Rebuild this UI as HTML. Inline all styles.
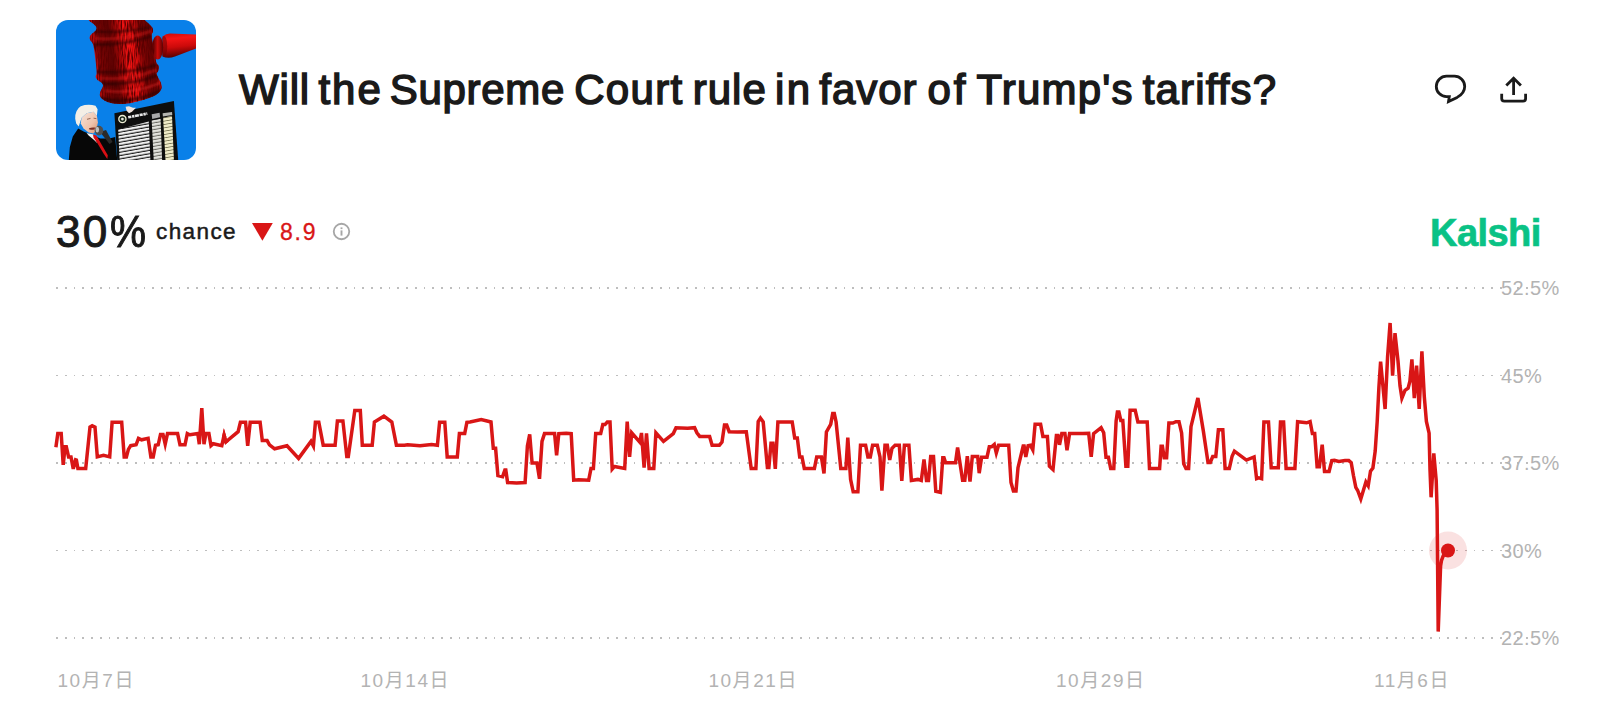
<!DOCTYPE html>
<html lang="en">
<head>
<meta charset="utf-8">
<title>Will the Supreme Court rule in favor of Trump's tariffs?</title>
<style>
html,body{margin:0;padding:0;background:#fff;}
body{width:1600px;height:709px;position:relative;overflow:hidden;font-family:"Liberation Sans","Noto Sans CJK JP",sans-serif;color:#1a1a1a;}
.thumb{position:absolute;left:56px;top:20px;width:140px;height:140px;border-radius:12px;overflow:hidden;}
.thumb svg{display:block;}
h1{position:absolute;left:0;top:63.7px;margin:0;width:1400px;height:52px;font-size:42px;line-height:52px;font-weight:400;white-space:nowrap;color:#1a1a1a;-webkit-text-stroke:1.5px #1a1a1a;}
h1 span{position:absolute;top:0;}
.icons{position:absolute;left:0;top:0;}
.pct{position:absolute;left:56px;top:206px;font-size:44px;line-height:52px;font-weight:400;letter-spacing:1px;color:#1a1a1a;white-space:nowrap;-webkit-text-stroke:1px #1a1a1a;}
.chance{position:absolute;left:156px;top:218px;font-size:22.5px;line-height:28px;letter-spacing:1.4px;color:#1a1a1a;white-space:nowrap;-webkit-text-stroke:0.5px #1a1a1a;}
.delta{position:absolute;left:280px;top:218px;font-size:23px;line-height:28px;letter-spacing:1.8px;color:#d91616;white-space:nowrap;-webkit-text-stroke:0.3px #d91616;}
.kalshi{position:absolute;left:1430px;top:211px;font-size:38px;line-height:44px;font-weight:700;color:#0ac285;letter-spacing:-0.55px;-webkit-text-stroke:0.7px #0ac285;white-space:nowrap;}
svg.chart{position:absolute;left:0;top:0;}
svg.chart text{font-family:"Liberation Sans","Noto Sans CJK JP",sans-serif;fill:#b3b3b3;}
</style>
</head>
<body>
<div class="thumb"><svg width="140" height="140" viewBox="0 0 140 140">
<defs>
<linearGradient id="gh" gradientUnits="userSpaceOnUse" x1="33" y1="46" x2="106" y2="36">
<stop offset="0" stop-color="#b00808"/><stop offset="0.07" stop-color="#dd0f0f"/><stop offset="0.17" stop-color="#780303"/><stop offset="0.33" stop-color="#5e0202"/><stop offset="0.44" stop-color="#a50707"/><stop offset="0.54" stop-color="#f21313"/><stop offset="0.64" stop-color="#e30e0e"/><stop offset="0.74" stop-color="#800404"/><stop offset="0.87" stop-color="#650202"/><stop offset="0.95" stop-color="#d60d0d"/><stop offset="1" stop-color="#a00606"/>
</linearGradient>
<linearGradient id="hd" x1="0" y1="0" x2="0.15" y2="1">
<stop offset="0" stop-color="#c80a0a"/><stop offset="0.25" stop-color="#f51515"/><stop offset="0.6" stop-color="#cc0a0a"/><stop offset="1" stop-color="#5a0101"/>
</linearGradient>
<linearGradient id="kn" x1="0" y1="0" x2="1" y2="0">
<stop offset="0" stop-color="#3c0101"/><stop offset="0.5" stop-color="#c80a0a"/><stop offset="1" stop-color="#5a0202"/>
</linearGradient>
<linearGradient id="face" x1="0" y1="0" x2="1" y2="1">
<stop offset="0" stop-color="#f6e3d8"/><stop offset="0.6" stop-color="#efc4ad"/><stop offset="1" stop-color="#d98f6c"/>
</linearGradient>
<pattern id="rows" x="0" y="0" width="10" height="3.3" patternUnits="userSpaceOnUse" patternTransform="rotate(-10)"><rect width="10" height="2.3" fill="#f0f0f0"/><rect y="2.3" width="10" height="1" fill="#1a1a1a"/></pattern>
<pattern id="rows2" x="0" y="0" width="10" height="3.3" patternUnits="userSpaceOnUse" patternTransform="rotate(-10)"><rect width="10" height="2.4" fill="#e2e2dc"/><rect y="2.4" width="10" height="0.9" fill="#6a6a62"/></pattern>
<pattern id="rows3" x="0" y="0" width="10" height="3.3" patternUnits="userSpaceOnUse" patternTransform="rotate(-10)"><rect width="10" height="2.5" fill="#efebc8"/><rect y="2.5" width="10" height="0.8" fill="#7d7a58"/></pattern>
<filter id="grain" x="0" y="0" width="100%" height="100%"><feTurbulence type="fractalNoise" baseFrequency="0.8 0.09" numOctaves="2" seed="7" result="n"/><feColorMatrix in="n" type="matrix" values="0 0 0 0 0.1  0 0 0 0 0  0 0 0 0 0  3.2 0 0 0 -1.25" result="a"/><feComposite in="a" in2="SourceGraphic" operator="in"/></filter>
<filter id="soft" x="-10%" y="-10%" width="120%" height="120%"><feGaussianBlur stdDeviation="0.8"/></filter>
<path id="gv" d="M58.0 -6.0 Q30.0 -6.0 30.9 -3.0 Q31.7 0.0 35.9 2.8 Q40.0 5.6 40.5 7.8 Q41.0 10.1 38.2 12.0 Q35.5 13.9 34.4 15.4 Q33.2 17.0 33.8 18.9 Q34.3 20.8 35.8 22.1 Q37.4 23.4 38.3 30.7 Q39.3 38.0 40.2 46.0 Q41.2 53.9 40.2 55.0 Q39.3 56.0 40.0 57.9 Q40.6 59.8 44.7 61.9 Q48.8 64.0 46.0 68.5 Q43.1 72.9 44.0 76.1 Q45.0 79.2 51.4 81.9 Q57.7 84.6 67.2 83.9 Q76.8 83.3 86.9 80.1 Q97.1 76.9 101.0 74.2 Q104.9 71.6 105.6 67.8 Q106.2 64.0 102.9 59.0 Q99.6 53.9 101.1 52.6 Q102.6 51.3 102.8 48.5 Q103.0 45.6 101.7 44.8 Q100.3 44.0 99.0 36.5 Q97.8 29.0 96.5 21.8 Q95.2 14.5 96.2 13.2 Q97.3 12.0 97.0 9.8 Q96.7 7.5 95.0 5.9 Q93.3 4.3 90.8 2.1 Q88.2 0.0 87.1 -3.0 Q86.0 -6.0 58.0 -6.0Z"/>
<clipPath id="gvc"><use href="#gv"/></clipPath>
</defs>
<rect width="140" height="140" fill="#0980e9"/>
<!-- handle -->
<path d="M106.5 16.5 Q110 13.6 114 13.6 L140 14.4 L140 28.6 L119 36.6 Q112 39 106.5 36.5 Z" fill="url(#hd)"/>
<ellipse cx="108" cy="26.5" rx="3.2" ry="10.5" fill="#6a0202" fill-opacity="0.55"/>
<ellipse cx="101.6" cy="27.6" rx="5.6" ry="12" fill="url(#kn)"/>
<!-- gavel head -->
<use href="#gv" fill="url(#gh)"/>
<use href="#gv" fill="#000" filter="url(#grain)"/>
<g clip-path="url(#gvc)">
<g fill="none" stroke="#240000" stroke-opacity="0.62" stroke-linecap="round" filter="url(#soft)">
<path d="M38 11.5 Q68 13.5 98 6.5" stroke-width="2"/>
<path d="M35 24.2 Q66 26.5 97 15.8" stroke-width="2.6"/>
<path d="M39 51.5 Q70 55 102 44.5" stroke-width="2.4"/>
<path d="M44 63.5 Q74 66 101 55.5" stroke-width="3.4"/>
<path d="M43 78 Q74 86 106 70" stroke-width="4"/>
</g>
<g fill="none" stroke="#ff2a2a" stroke-opacity="0.5" stroke-linecap="round" filter="url(#soft)">
<path d="M40 18.5 Q68 20.5 94 11.5" stroke-width="1.6"/>
<path d="M46 58.2 Q74 60.5 100 50" stroke-width="1.6"/>
<path d="M50 71 Q78 74 104 63" stroke-width="2"/>
</g>
</g>
<!-- board -->
<path d="M58.4 93.2 L117.9 80.9 L122.2 140 L61.2 140 Z" fill="#0d0d0d"/>
<path d="M62.2 109.5 L92.8 101.6 L94.2 135.2 L94.4 140 L63.6 140 Z" fill="url(#rows)"/>
<path d="M95.7 100.6 L104.6 98.7 L106.1 140 L97.7 140 Z" fill="url(#rows2)"/>
<path d="M107.1 97.7 L116 95.7 L117.9 140 L109.5 140 Z" fill="url(#rows3)"/>
<path d="M95.7 94.2 L103.6 92.7 L104.1 97.2 L96.2 98.9 Z" fill="#a9a9a9"/>
<path d="M106.6 93.2 L116 91.9 L116.3 94.9 L106.9 96.5 Z" fill="#b5b5b0"/>
<path d="M72.2 97.3 L91.3 93.6" stroke="#e6e6e6" stroke-width="2.6" stroke-dasharray="3.2 0.7 2.4 0.6 4 0.7"/>
<circle cx="66.4" cy="99.1" r="3.6" fill="#1d2a1d" stroke="#efefd6" stroke-width="1.3"/>
<circle cx="66.4" cy="99.1" r="1.4" fill="#e8e8e0"/>
<!-- hand -->
<path d="M69.6 86.8 L73 86.3 L77 87.8 L79.9 87.8 L76 91.7 L73 93.2 L70.6 90.8 Z" fill="#f3e6e0"/>
<!-- person -->
<path d="M12.8 140 L13.8 127.3 L16.8 116.4 L22.2 108.5 L27.6 111.5 L37.5 115.4 L44.4 118.4 L53.3 118.4 L59.2 116.9 L61.2 140 Z" fill="#070707"/>
<path d="M30.6 113 L37.5 114.4 L41.4 123.3 L37.5 119.4 L32.6 115.4 Z" fill="#f2f2f2"/>
<path d="M37 114.4 L40.4 115.4 L51.8 135.2 L51.3 139.1 L47.4 133.2 L41.4 123.3 L37.5 117.4 Z" fill="#d90f14"/>
<path d="M25.6 97.7 L30.6 93.2 L37.5 91.7 L40.9 95.7 L41.9 102.6 L40.4 109.5 L37.5 113.5 L32.6 112.5 L27.6 108.5 L24.7 103.6 Z" fill="url(#face)"/>
<path d="M19.2 98.7 Q19 90 24.7 86.3 Q32 83.6 39.5 85.8 L41.6 89.3 L40.9 95.7 L37.5 91.7 L30.6 93.2 L25.6 97.7 L22.7 106.6 L20.2 103.6 Z" fill="#f4efe6"/>
<path d="M33 108.2 Q36 107 39 107.6 L38.6 109.4 Q36 109.8 33.4 109.6Z" fill="#7a2f25"/>
<path d="M31 99.3 L34.5 98.4 M37.6 98.2 L40.4 98.6" stroke="#8a5a48" stroke-width="0.9"/>
<!-- mic -->
<path d="M44 112 L50 110 L56.5 122 L53.5 124 Z" fill="#2a2a2a"/>
<ellipse cx="43" cy="110.6" rx="4.3" ry="4.8" fill="#4e4e4e"/>
<ellipse cx="41.3" cy="109.6" rx="1.8" ry="2.8" fill="#bdbdbd"/>
</svg>
</div>
<h1><span style="left:239.1px;letter-spacing:0.8px">Will</span> <span style="left:318.4px;letter-spacing:2.06px">the</span> <span style="left:389.7px;letter-spacing:0.71px">Supreme</span> <span style="left:574.2px;letter-spacing:1.31px">Court</span> <span style="left:692.8px;letter-spacing:0.97px">rule</span> <span style="left:774.9px;letter-spacing:2.51px">in</span> <span style="left:819.3px;letter-spacing:0.95px">favor</span> <span style="left:927.6px;letter-spacing:2.68px">of</span> <span style="left:976.5px;letter-spacing:1.18px">Trump's</span> <span style="left:1142.8px;letter-spacing:1.13px">tariffs?</span></h1>
<svg class="icons" width="1600" height="200" viewBox="0 0 1600 200" fill="none" stroke="#1a1a1a" stroke-width="2.8">
<path d="M1446.5 76.2 h8 a10.2 10.2 0 0 1 10.2 10.2 c0 5.6 -3.4 8.6 -7.6 11 l-8.6 4.2 l0.8 -5 h-2.8 a10.2 10.2 0 0 1 0 -20.4 z" stroke-linejoin="miter"/>
<path d="M1513.6 95 V78.5 M1506.3 85.5 L1513.6 78.2 L1520.9 85.5 M1501.7 93.8 V98.5 a2.6 2.6 0 0 0 2.6 2.6 H1523 a2.6 2.6 0 0 0 2.6 -2.6 V93.8"/>
</svg>
<div class="pct"><span style="letter-spacing:2.4px">30</span><span style="display:inline-block;transform:scaleX(.92);transform-origin:0 50%">%</span></div>
<div class="chance">chance</div>
<svg class="icons" width="1600" height="300" viewBox="0 0 1600 300">
<path d="M252 223.1 H272.8 L262.4 240.8 Z" fill="#d91616"/>
<circle cx="341.5" cy="231.5" r="7.75" fill="none" stroke="#a6a6a6" stroke-width="1.8"/>
<rect x="340.55" y="230.4" width="1.9" height="5.2" fill="#a6a6a6"/>
<rect x="340.55" y="227.4" width="1.9" height="1.7" fill="#a6a6a6"/>
</svg>
<div class="delta">8.9</div>
<div class="kalshi">Kalshi</div>
<svg class="chart" width="1600" height="709" viewBox="0 0 1600 709">
<defs><pattern id="dots" x="56" y="0" width="35" height="709" patternUnits="userSpaceOnUse"><path d="M0 0h2v709h-2z M9 0h2v709h-2z M18 0h1v709h-1z M26 0h2v709h-2z" fill="#bebebe"/></pattern></defs>
<g shape-rendering="crispEdges">
<rect x="56" y="287" width="1472" height="2" fill="url(#dots)"/>
<rect x="56" y="375" width="1472" height="1" fill="url(#dots)"/>
<rect x="56" y="462" width="1472" height="2" fill="url(#dots)"/>
<rect x="56" y="550" width="1472" height="1" fill="url(#dots)"/>
<rect x="56" y="637" width="1472" height="2" fill="url(#dots)"/>
</g>
<g font-size="20" letter-spacing="0.4">
<text x="1501" y="295">52.5%</text>
<text x="1501" y="382.5">45%</text>
<text x="1501" y="470">37.5%</text>
<text x="1501" y="557.5">30%</text>
<text x="1501" y="645">22.5%</text>
</g>
<g font-size="19" letter-spacing="1.55">
<text x="57.5" y="686.5">10月7日</text>
<text x="360.5" y="686.5">10月14日</text>
<text x="708.4" y="686.5">10月21日</text>
<text x="1056" y="686.5">10月29日</text>
<text x="1374" y="686.5">11月6日</text>
</g>
<circle cx="1448" cy="550.5" r="19" fill="#d91616" fill-opacity="0.13"/>
<path d="M55.9 447.5 L57.8 433.8 L61.2 433.8 L63.2 465.1 L65.1 447 L66.3 447 L68.6 457.1 L71 457.1 L73 467.6 L73.6 467.6 L75.6 459.9 L76.4 460.2 L77.9 468.7 L85.7 468.7 L90 427.3 L92.2 426 L95 427.3 L97.3 457.1 L103.5 455.5 L109.7 457.1 L112.1 422.5 L121.7 422.5 L124.2 457.1 L126.4 457.1 L128.4 449.6 L130.7 445.9 L136.1 445 L138.5 438.5 L141.6 440 L148.1 438.5 L150.9 457.1 L153.2 457.1 L155.5 445.4 L158.2 445 L160.5 434.6 L163 434.6 L165.2 444.4 L167.5 433.8 L177.6 433.8 L180 445 L185 445 L187.3 433.8 L189.7 435 L190 435 L197.8 433.8 L199.3 444.4 L201.8 408.2 L204 444.4 L205.8 433.8 L208.9 433.8 L211 445.9 L213.3 443.9 L221.8 445.9 L224.1 435.5 L226 442 L238.1 431.9 L240.4 422.5 L245.6 422.5 L247.7 446.1 L250.2 422.5 L260.1 422.5 L262.3 440.8 L267.1 440.8 L269.5 445 L274.6 449 L287 445.9 L298.6 458.6 L311 441.6 L313.4 446.2 L315.4 422.5 L318.8 422.5 L323.2 445.4 L332.8 445.4 L335.1 445.4 L337.4 421.1 L342.9 421.1 L346.8 456.8 L348.3 456.8 L354.8 410.8 L360.3 410.8 L362.3 445.4 L372.2 445.4 L374.4 422.2 L383.9 416.4 L391.8 422.2 L396.4 445.4 L404.5 445.4 L407.6 445 L420 445.9 L431.6 444.7 L437.4 445.4 L439.6 422.5 L444.8 422.5 L447.2 457.1 L457.3 457.1 L459.4 433.8 L464.7 433.8 L466.9 422.5 L470 422.2 L481.2 419.8 L491 422.2 L493.3 448.5 L495.6 448.5 L497.9 475.7 L502.6 476.8 L504.9 470.1 L505.8 470.1 L507.6 482.8 L516.6 483.3 L525.1 482.8 L527.4 446.2 L529.7 434.6 L532.1 463.3 L537 463.3 L539.5 479 L542 441.6 L544.5 433.8 L554.6 433.8 L556.6 455.5 L558.8 433.8 L566.2 433.5 L571.2 433.8 L573.7 480.4 L578.6 480 L588.7 480.4 L591 468.7 L593.4 468.7 L595.7 433.8 L600.7 433.8 L602.8 424.8 L605 424.8 L607.3 422.2 L610 422.2 L612.2 469.2 L614.3 466.7 L624.7 468.7 L627.2 421.8 L629.6 457.1 L631.7 433 L639.8 442.3 L641.5 433.2 L644.1 467.9 L646.5 433.6 L649.1 468.7 L653.8 468.7 L655.9 433 L663.5 441.6 L673.3 433.8 L676 427.9 L687.6 428.4 L694.6 427.9 L696.9 433 L699.7 436.6 L709.6 436.6 L712.1 445.4 L719.4 445.4 L722 442.3 L724.5 425.3 L726.7 425.3 L729.2 431.9 L737.3 432.2 L746.3 431.9 L751.2 468.7 L753.5 468.7 L755.9 468.7 L758.2 421.7 L760.4 418.3 L763.2 422.2 L767.4 467.6 L768.9 467.6 L771 443.4 L773 443.4 L775.3 469 L777.9 422.2 L792.2 422.2 L794.7 438.1 L797.3 438.1 L799.7 457.1 L802 457.1 L804.3 468.7 L814.4 468.7 L816.7 457.1 L821.4 457.1 L824 473.7 L826.4 432.2 L830.7 424.5 L832.7 413.8 L834.3 413.8 L836.1 422.2 L840.8 468.7 L845.9 468.7 L847.8 437.7 L850.6 479.6 L853.2 492 L857.9 492 L860.5 445.4 L865.6 445.4 L867.9 457.1 L870.3 457.1 L872.6 445.4 L877.3 445.4 L880 457.1 L881.9 490.9 L885 445.4 L887.3 445.4 L889.7 460.2 L892 448.5 L895.1 445.4 L899.3 445.4 L901.8 481 L904.4 445.4 L908.9 445.4 L911.4 480.7 L917.9 479.6 L921.3 480.7 L924 459.6 L926.5 480.7 L928.5 480.7 L930.7 456.8 L933.5 456.8 L935.8 491.5 L940.4 492.5 L942.8 457.9 L944 457.9 L945.6 463 L955.5 463 L957.6 447.6 L962.6 480.4 L964.8 480.4 L967.3 456.5 L970 481.8 L972.3 456.8 L977.7 456.8 L979.2 473.4 L981.6 457.4 L987 457.4 L989.3 447 L991.6 447 L994.3 444.7 L996.3 453.2 L998.6 445.4 L1008.7 445.4 L1011 482.7 L1013.4 491.2 L1016 491.2 L1018 467.9 L1023.2 446.2 L1024.1 446.2 L1025.8 457.1 L1028.1 445.9 L1030.4 445.4 L1032.8 450.1 L1035.1 424.5 L1040.6 424.5 L1042.9 436.6 L1047.4 436.6 L1049.4 466.4 L1053 469.8 L1056.4 435.7 L1057.9 435.7 L1059.5 445 L1061.8 433.8 L1064.9 433.8 L1067 450.4 L1069.6 433.8 L1082.8 433.8 L1088.7 433.5 L1091.2 456.9 L1093.6 433.8 L1101.1 427.9 L1103.7 433 L1106 457.4 L1108.4 457.4 L1110.7 468.7 L1113.8 468.7 L1116.1 421.4 L1117.4 412.1 L1118.9 412.1 L1120.8 420.6 L1122.8 420.6 L1125.9 466.4 L1127.8 466.4 L1130.1 410.5 L1135.2 410.5 L1137.9 422.2 L1147.2 422.2 L1149.5 468.7 L1159.6 468.7 L1161.1 446.5 L1162.4 446.5 L1164.2 457.9 L1166.6 457.9 L1168.9 423.2 L1172.8 423.2 L1175.9 421.9 L1179 421.9 L1181.6 433.1 L1183.7 464.1 L1186 468.8 L1188.6 468.8 L1191 426.9 L1197.9 398.2 L1203.4 431.6 L1208 462.6 L1210.3 462.6 L1212.7 456.7 L1215.8 456.7 L1218.4 430 L1222.8 430 L1225.1 468.8 L1229.3 468.8 L1232.1 456.4 L1234.4 451.4 L1246.4 460.3 L1254.1 457.2 L1256.6 478.9 L1258.8 478.1 L1261.6 478.9 L1263.9 422.2 L1268.5 422.2 L1271.2 468 L1278.3 468 L1280.5 422.2 L1283.6 422.2 L1286.1 468.8 L1294.9 468.8 L1297.6 421.9 L1306.6 423 L1310.1 421.7 L1312.4 433.8 L1314.7 433.8 L1317.1 467 L1319.4 467 L1322.2 444.8 L1324.5 471.6 L1329.1 471.6 L1331.8 460.8 L1334.4 460.5 L1338.8 461.7 L1345 460.8 L1348.8 460.8 L1351.2 462.8 L1353.5 476 L1355.8 487.6 L1357.7 490.7 L1360.8 499.2 L1365.9 482.2 L1368.2 486 L1370.5 471.3 L1372.9 468.2 L1375.2 451.2 L1377.2 421.7 L1378.9 387.5 L1380.6 361.9 L1385.1 409.2 L1387.6 356.5 L1390.1 323.2 L1392.6 375.9 L1395 333.3 L1398 361.2 L1400 386 L1401.9 398.4 L1405 390.6 L1408.1 388.3 L1409.9 381.3 L1411.9 359.6 L1414.3 398.4 L1416.6 365.8 L1419.2 409.2 L1421.9 351.6 L1424.3 396.8 L1426.4 421.7 L1429.1 433.3 L1430 469.8 L1431.1 497.5 L1433.8 453.6 L1436.2 480.6 L1437.1 510 L1438.2 631.8 L1440.6 566 Q1441.6 555 1448 550.5" fill="none" stroke="#d91616" stroke-width="3.5" stroke-linejoin="miter" stroke-miterlimit="5" transform="translate(0,-0.2)" stroke-linecap="butt"/>
<path d="M223.56 437.94 L224.1 435.5 L224.8 437.9 M225.3 439.6 L226 442 L227.92 440.4 " fill="none" stroke="#d91616" stroke-width="3.5" stroke-linejoin="miter" stroke-miterlimit="40" stroke-linecap="butt" transform="translate(0,-0.2)"/>
<circle cx="1448" cy="550.5" r="7" fill="#d91616"/>
</svg>
</body>
</html>
